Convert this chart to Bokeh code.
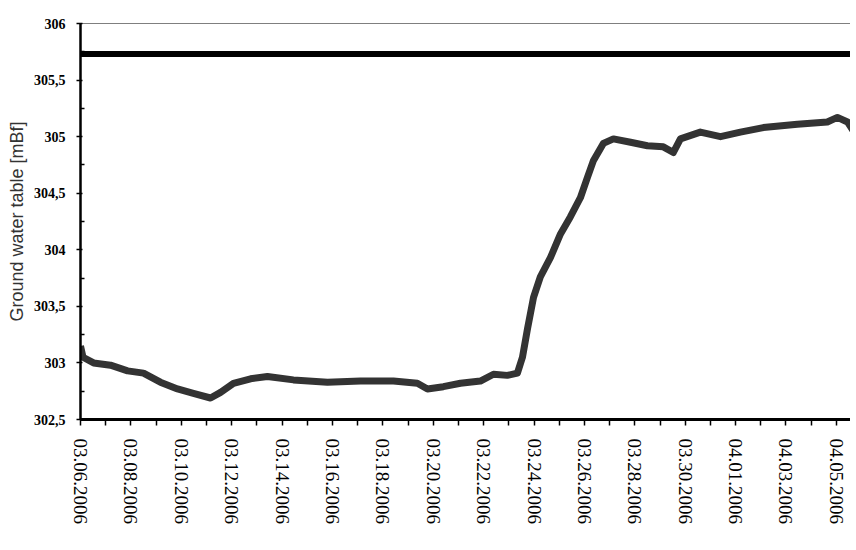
from bokeh.plotting import figure
from bokeh.models import Range1d, FixedTicker, Span
from bokeh.embed import file_html
from bokeh.resources import INLINE

# Day offsets since 03.06.2006 and ground water level [mBf]
days = [0.0, 0.1, 0.52, 1.19, 1.87, 2.5, 3.17, 3.85, 4.48, 5.16, 5.56, 6.07, 6.75,
        7.42, 8.45, 9.8, 11.11, 12.42, 13.37, 13.77, 14.4, 15.08, 15.87, 16.39,
        16.94, 17.34, 17.54, 17.74, 17.98, 18.25, 18.65, 19.05, 19.44, 19.84,
        20.12, 20.36, 20.75, 21.15, 21.83, 22.5, 23.13, 23.53, 23.81, 24.6,
        25.4, 26.19, 27.1, 28.45, 29.64, 30.04, 30.44, 30.67]
levels = [303.15, 303.05, 303.0, 302.98, 302.93, 302.91, 302.83, 302.77, 302.73,
          302.69, 302.74, 302.82, 302.86, 302.88, 302.85, 302.83, 302.84, 302.84,
          302.82, 302.77, 302.79, 302.82, 302.84, 302.90, 302.89, 302.91, 303.05,
          303.30, 303.58, 303.76, 303.93, 304.14, 304.29, 304.46, 304.64, 304.79,
          304.94, 304.98, 304.95, 304.92, 304.91, 304.86, 304.98, 305.04, 305.00,
          305.04, 305.08, 305.11, 305.13, 305.17, 305.13, 305.05]

date_labels = ["03.06.2006", "03.08.2006", "03.10.2006", "03.12.2006", "03.14.2006",
               "03.16.2006", "03.18.2006", "03.20.2006", "03.22.2006", "03.24.2006",
               "03.26.2006", "03.28.2006", "03.30.2006", "04.01.2006", "04.03.2006",
               "04.05.2006"]
date_ticks = [0, 2, 4, 6, 8, 10, 12, 14, 16, 18, 20, 22, 24, 26, 28, 30]
day_minor = [1, 3, 5, 7, 9, 11, 13, 15, 17, 19, 21, 23, 25, 27, 29]

y_ticks = [302.5, 303.0, 303.5, 304.0, 304.5, 305.0, 305.5, 306.0]
y_labels = ["302,5", "303", "303,5", "304", "304,5", "305", "305,5", "306"]
y_minor = [302.75, 303.25, 303.75, 304.25, 304.75, 305.25, 305.75]

threshold = 305.73
top_level = 306.0

p = figure(width=850, height=540, output_backend="svg", toolbar_location=None,
           x_range=Range1d(0, 30.56), y_range=Range1d(302.5, 306.0),
           min_border_left=80, min_border_right=0, min_border_top=23,
           min_border_bottom=121)
p.outline_line_color = None
p.grid.grid_line_color = None
p.background_fill_color = "white"

p.line(days, levels, line_color="#333333", line_width=7, line_join="round")
p.add_layout(Span(location=threshold, dimension="width", line_color="black", line_width=6))
p.add_layout(Span(location=top_level, dimension="width", line_color="black", line_width=1))

# x axis
xa = p.xaxis[0]
xa.ticker = FixedTicker(ticks=date_ticks, minor_ticks=day_minor)
xa.major_label_overrides = {t: l for t, l in zip(date_ticks, date_labels)}
xa.major_label_orientation = "vertical"
xa.major_label_text_font = "Liberation Serif"
xa.major_label_text_font_size = "19px"
xa.major_label_text_color = "black"
xa.major_label_standoff = 13
xa.axis_line_width = 3
xa.axis_line_color = "black"
xa.major_tick_in = 0
xa.major_tick_out = 6
xa.minor_tick_in = 0
xa.minor_tick_out = 6
xa.major_tick_line_width = 1.5
xa.minor_tick_line_width = 1.5
xa.major_tick_line_color = "black"
xa.minor_tick_line_color = "black"

# y axis
ya = p.yaxis[0]
ya.ticker = FixedTicker(ticks=y_ticks, minor_ticks=y_minor)
ya.major_label_overrides = {t: l for t, l in zip(y_ticks, y_labels)}
ya.major_label_text_font = "Liberation Serif"
ya.major_label_text_font_style = "bold"
ya.major_label_text_font_size = "14px"
ya.major_label_text_color = "black"
ya.major_label_standoff = 11
ya.axis_line_width = 2.5
ya.axis_line_color = "black"
ya.major_tick_in = 2
ya.major_tick_out = 4
ya.minor_tick_in = 4
ya.minor_tick_out = 0
ya.major_tick_line_width = 1.5
ya.minor_tick_line_width = 1.5
ya.major_tick_line_color = "black"
ya.minor_tick_line_color = "black"
ya.axis_label = "Ground water table [mBf]"
ya.axis_label_text_font = "Liberation Sans"
ya.axis_label_text_font_style = "normal"
ya.axis_label_text_font_size = "18px"
ya.axis_label_text_color = "#333333"
ya.axis_label_standoff = 4

open("out.html", "w").write(file_html(p, INLINE))
